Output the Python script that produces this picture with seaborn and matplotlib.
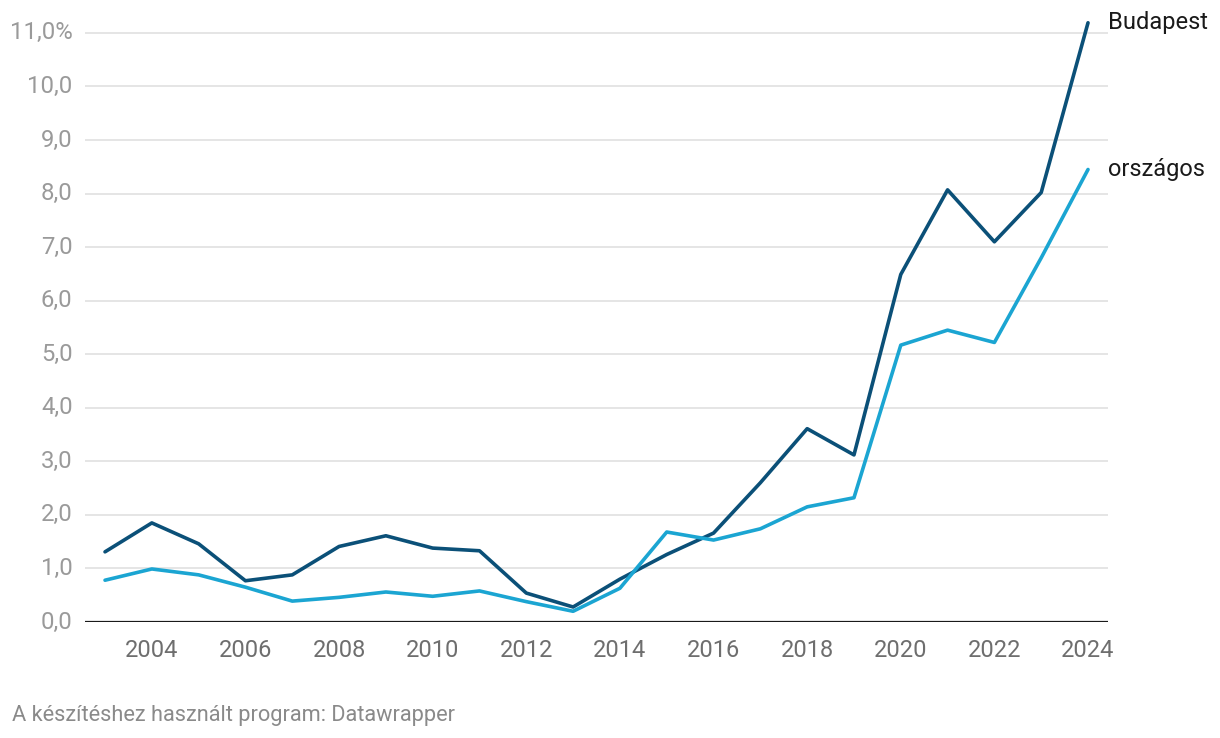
import pandas as pd
import matplotlib.pyplot as plt
import seaborn as sns

# Values (percent)
years = list(range(2003, 2025))
budapest = [1.31, 1.85, 1.46, 0.77, 0.88, 1.41, 1.61, 1.38, 1.33, 0.54, 0.28,
            0.80, 1.26, 1.66, 2.60, 3.61, 3.12, 6.49, 8.07, 7.10, 8.02, 11.19]
orszagos = [0.78, 0.99, 0.88, 0.65, 0.39, 0.46, 0.56, 0.48, 0.58, 0.38, 0.20,
            0.63, 1.68, 1.53, 1.74, 2.15, 2.32, 5.17, 5.45, 5.22, 6.80, 8.45]
series_names = ['Budapest', 'országos']
colors = ['#0b5078', '#1ba5d2']
y_ticks = list(range(0, 12))
x_ticks = list(range(2004, 2025, 2))

df = pd.DataFrame({
    'year': years * 2,
    'value': budapest + orszagos,
    'series': [series_names[0]] * len(years) + [series_names[1]] * len(years),
})

sns.set_style("white")
plt.rcParams['font.family'] = ['Roboto', 'DejaVu Sans']

fig = plt.figure(figsize=(12.2, 7.38), dpi=100)
ax = fig.add_axes([0.0697, 0.1572, 0.9082 - 0.0697, 0.9735 - 0.1572])

sns.lineplot(data=df, x='year', y='value', hue='series', palette=colors,
             linewidth=2.6, legend=False, ax=ax, clip_on=False, zorder=3)

ax.set_xlim(2002.573, 2024.427)
ax.set_ylim(0, 11.25)

# gridlines
for v in y_ticks[1:]:
    ax.axhline(v, color='#e3e3e3', linewidth=1.3, zorder=1)
ax.axhline(0, color='#1a1a1a', linewidth=1.6, zorder=4)

ax.set_yticks(y_ticks)
ax.set_yticklabels([f'{v},0' if v < 11 else f'{v},0%' for v in y_ticks])
ax.set_xticks(x_ticks)
ax.set_xticklabels([str(x) for x in x_ticks])
ax.tick_params(axis='y', length=0, pad=9, labelsize=17.2, labelcolor='#9a9a9a')
ax.tick_params(axis='x', length=0, pad=12, labelsize=17, labelcolor='#6e6e6e')
for lbl in ax.get_yticklabels():
    lbl.set_verticalalignment('center')

for s in ax.spines.values():
    s.set_visible(False)
ax.set_xlabel('')
ax.set_ylabel('')

# end labels
for name, vals in zip(series_names, [budapest, orszagos]):
    ax.annotate(name, xy=(years[-1], vals[-1]), xytext=(14.4, 0),
                textcoords='offset points', va='center', ha='left',
                fontsize=17, color='#1a1a1a', annotation_clip=False)

fig.text(12 / 1220, 1 - 715 / 738, 'A készítéshez használt program: Datawrapper',
         fontsize=15.7, color='#8a8a8a', va='center', ha='left')

fig.savefig('out.png', dpi=100)
